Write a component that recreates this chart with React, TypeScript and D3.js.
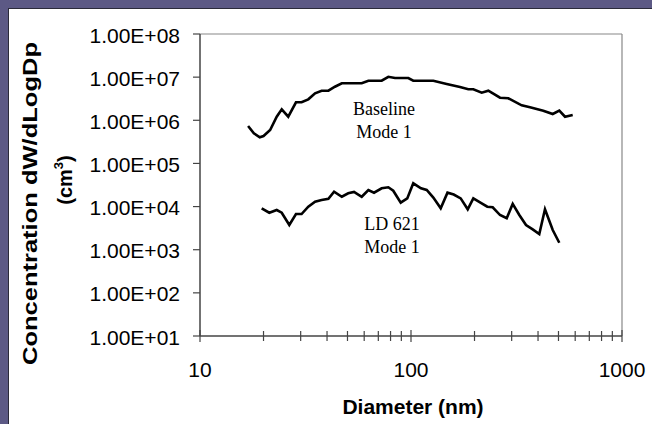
import React from "react";
import * as d3 from "d3";

const baselineX = [16.9, 18.0, 19.2, 20.0, 21.5, 23.1, 24.4, 26.2, 28.5, 30.3, 32.6, 35.1, 37.7, 40.6, 43.6, 47.0, 58.4, 62.8, 72.6, 78.1, 84.0, 97.1, 102.5, 127.6, 147.6, 170.7, 186.9, 197.4, 216.3, 232.5, 264.2, 289.2, 334.6, 366.4, 423.6, 469.6, 504.5, 537, 584];
const baselineY = [7.37e5, 4.99e5, 4.03e5, 4.32e5, 5.95e5, 1.21e6, 1.8e6, 1.21e6, 2.61e6, 2.61e6, 3.06e6, 4.22e6, 4.85e6, 4.85e6, 6.0e6, 7.2e6, 7.2e6, 8.27e6, 8.27e6, 1.02e7, 9.55e6, 9.55e6, 8.27e6, 8.27e6, 6.93e6, 5.9e6, 5.23e6, 5.23e6, 4.36e6, 4.85e6, 3.34e6, 3.23e6, 2.22e6, 2.0e6, 1.67e6, 1.4e6, 1.67e6, 1.21e6, 1.33e6];

const ldX = [19.6, 21.3, 23.1, 24.4, 26.5, 28.5, 30.3, 32.6, 35.1, 37.7, 40.6, 43.2, 47.0, 50.4, 53.7, 58.4, 62.8, 66.8, 72.6, 78.1, 82.4, 89.4, 96.0, 102.5, 111.5, 118.7, 127.6, 138.3, 148.9, 159.4, 172.0, 185.7, 197.4, 216.3, 229.9, 243.9, 264.2, 284.2, 303.4, 326.1, 350.8, 377.4, 405.5, 431.5, 469.6, 504.5];
const ldY = [9.11e3, 7.21e3, 8.32e3, 7.21e3, 3.74e3, 6.72e3, 6.72e3, 9.93e3, 1.3e4, 1.42e4, 1.52e4, 2.21e4, 1.69e4, 2.03e4, 2.18e4, 1.69e4, 2.42e4, 2.1e4, 2.65e4, 2.8e4, 2.33e4, 1.23e4, 1.55e4, 3.46e4, 2.65e4, 2.42e4, 1.62e4, 9.11e3, 2.1e4, 1.9e4, 1.55e4, 8.64e3, 1.55e4, 1.19e4, 9.93e3, 9.61e3, 6.37e3, 5.35e3, 1.15e4, 6.37e3, 3.74e3, 2.97e3, 2.31e3, 8.64e3, 2.86e3, 1.45e3];

const yTicks = [1e1, 1e2, 1e3, 1e4, 1e5, 1e6, 1e7, 1e8];
const yTickLabels = ["1.00E+01", "1.00E+02", "1.00E+03", "1.00E+04", "1.00E+05", "1.00E+06", "1.00E+07", "1.00E+08"];
const xMajor = [10, 100, 1000];
const xMajorLabels = ["10", "100", "1000"];
const xMinor = [20, 30, 40, 50, 60, 70, 80, 90, 200, 300, 400, 500, 600, 700, 800, 900];

const W = 652;
const H = 424;
const L = 200, R = 622, T = 34, B = 336;
const SANS = "'Liberation Sans', Arial, sans-serif";
const SERIF = "'Liberation Serif', 'Times New Roman', serif";

export default function App() {
  const x = d3.scaleLog().domain([10, 1000]).range([L, R]);
  const y = d3.scaleLog().domain([1e1, 1e8]).range([B, T]);
  const line = d3
    .line<[number, number]>()
    .x((d) => x(d[0]))
    .y((d) => y(d[1]));
  const base = baselineX.map((v, i) => [v, baselineY[i]] as [number, number]);
  const ld = ldX.map((v, i) => [v, ldY[i]] as [number, number]);

  return (
    <svg
      width={W}
      height={H}
      style={{ position: "fixed", left: 0, top: 0 }}
      xmlns="http://www.w3.org/2000/svg"
    >
      <rect x={0} y={0} width={W} height={H} fill="#5c5985" />
      <rect x={8.5} y={8.5} width={W} height={H} fill="#ffffff" stroke="#2a2a3a" strokeWidth={1} />
      {/* plot frame */}
      <line x1={L} x2={R} y1={T} y2={T} stroke="#888" strokeWidth={1.2} />
      <line x1={R} x2={R} y1={T} y2={B} stroke="#888" strokeWidth={1.2} />
      <line x1={L} x2={L} y1={T} y2={B} stroke="#444" strokeWidth={1.5} />
      <line x1={L} x2={R} y1={B} y2={B} stroke="#444" strokeWidth={1.5} />
      {yTicks.map((t, i) => (
        <g key={"y" + i}>
          <line x1={L - 7} x2={L} y1={y(t)} y2={y(t)} stroke="#444" strokeWidth={1.2} />
          <text x={180} y={y(t) + 8.5} textAnchor="end" fontFamily={SANS} fontSize={21} fill="#000">
            {yTickLabels[i]}
          </text>
        </g>
      ))}
      {xMajor.map((t, i) => (
        <g key={"x" + i}>
          <line x1={x(t)} x2={x(t)} y1={B - 6} y2={B + 6} stroke="#444" strokeWidth={1.2} />
          <text x={x(t)} y={377} textAnchor="middle" fontFamily={SANS} fontSize={21} fill="#000">
            {xMajorLabels[i]}
          </text>
        </g>
      ))}
      {xMinor.map((t, i) => (
        <line key={"m" + i} x1={x(t)} x2={x(t)} y1={B - 5} y2={B + 5} stroke="#444" strokeWidth={1.2} />
      ))}
      <path d={line(base) || ""} fill="none" stroke="#000" strokeWidth={2.6} strokeLinejoin="miter" />
      <path d={line(ld) || ""} fill="none" stroke="#000" strokeWidth={2.6} strokeLinejoin="miter" />
      <text x={384} y={115} textAnchor="middle" fontFamily={SERIF} fontSize={18} fill="#000">Baseline</text>
      <text x={384} y={137.5} textAnchor="middle" fontFamily={SERIF} fontSize={18} fill="#000">Mode 1</text>
      <text x={392} y={229.5} textAnchor="middle" fontFamily={SERIF} fontSize={18} fill="#000">LD 621</text>
      <text x={392} y={252.5} textAnchor="middle" fontFamily={SERIF} fontSize={18} fill="#000">Mode 1</text>
      <text x={413} y={414} textAnchor="middle" fontFamily={SANS} fontSize={21} fontWeight="bold" fill="#000">
        Diameter (nm)
      </text>
      <text
        transform="translate(37,203.5) rotate(-90)"
        textAnchor="middle"
        fontFamily={SANS}
        fontSize={20}
        fontWeight="bold"
        fill="#000"
        textLength={323}
        lengthAdjust="spacingAndGlyphs"
      >
        Concentration dW/dLogDp
      </text>
      <text
        transform="translate(72,180) rotate(-90)"
        textAnchor="middle"
        fontFamily={SANS}
        fontSize={20}
        fontWeight="bold"
        fill="#000"
      >
        (cm<tspan fontSize={13} dy={-9}>3</tspan><tspan dy={9}>)</tspan>
      </text>
    </svg>
  );
}
